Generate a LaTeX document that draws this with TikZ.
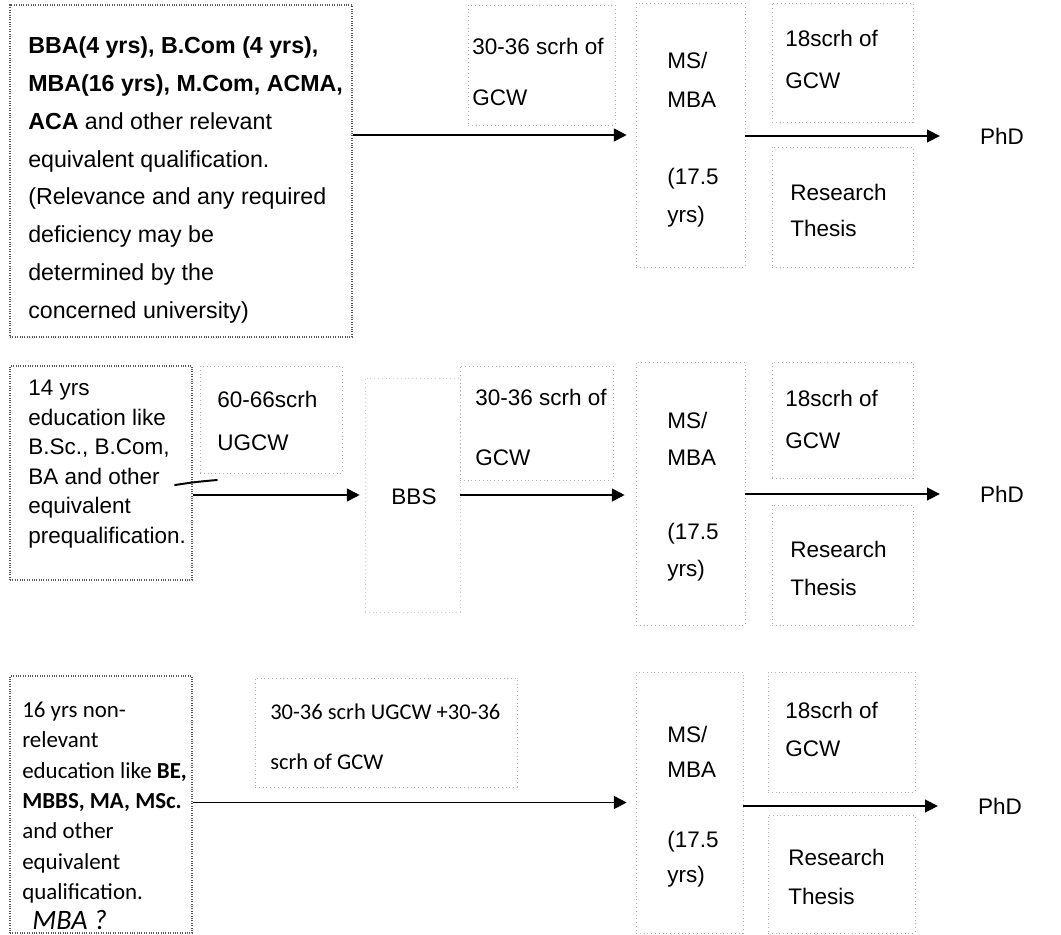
\documentclass[tikz,border=0pt]{standalone}
\usepackage{fontspec}
\setmainfont{Liberation Sans}
\newfontfamily\calibfont{Carlito}
\usetikzlibrary{arrows.meta,fit}

\tikzset{
  mainbox/.style={draw=black!65, densely dotted, line width=0.8pt},
  faintbox/.style={draw=black!30, dotted, line width=0.7pt},
  lsp/.style={font=\fontsize{16}{#1}\selectfont},
}

\begin{document}
\begin{tikzpicture}[x=0.025cm, y=-0.025cm]

        \useasboundingbox (0,0) rectangle (1061,935);

        % boxes
        \begin{scope}[every node/.style={faintbox, inner sep=0pt}]
          \node[mainbox, fit={(10,5) (352,337)}]   (a1box) {};
          \node[fit={(468,5) (615,125)}]           (g1box) {};
          \node[fit={(636,3) (745,267)}]           (ms1box) {};
          \node[fit={(772,3) (913,122)}]           (c1box) {};
          \node[fit={(772,147) (913,267)}]         (r1box) {};

          \node[mainbox, fit={(10,366) (192,580)}] (b1box) {};
          \node[fit={(200,366) (342,473)}]         (u2box) {};
          \node[draw=black!20, fit={(365,378) (460,612)}] (bbsbox) {};
          \node[fit={(460,366) (613,480)}]         (g2box) {};
          \node[fit={(636,362) (745,625)}]         (ms2box) {};
          \node[fit={(772,362) (913,478)}]         (c2box) {};
          \node[fit={(772,505) (913,625)}]         (r2box) {};

          \node[mainbox, fit={(10,676) (192,933)}] (n3box) {};
          \node[fit={(255,678) (517,787)}]         (u3box) {};
          \node[fit={(636,672) (743,933)}]         (ms3box) {};
          \node[fit={(768,672) (915,792)}]         (c3box) {};
          \node[fit={(768,815) (915,933)}]         (r3box) {};
        \end{scope}

        % texts
        \begin{scope}[every node/.style={align=left, inner sep=0pt, anchor=west}]
          \node[font=\fontsize{16.5}{27}\selectfont] (a1) at (28,180)
            {\textbf{BBA(4 yrs), B.Com (4 yrs),}\\ \textbf{MBA(16 yrs), M.Com, ACMA,}\\
             \textbf{ACA} and other relevant\\ equivalent qualification.\\
             (Relevance and any required\\ deficiency may be\\
             determined by the\\ concerned university)};
          \node[lsp=36.3] (g1)  at (472,72)   {30-36 scrh of\\GCW};
          \node[lsp=27.4] (ms1) at (667,140)  {MS/\\MBA\\ \mbox{}\\(17.5\\yrs)};
          \node[lsp=29.9] (c1)  at (785,59)   {18scrh of\\GCW};
          \node[lsp=25.6] (r1)  at (790,210)  {Research\\Thesis};
          \node[lsp=20, anchor=center] (phd1) at (1002,136) {PhD};

          \node[lsp=21]   (b1)  at (28,464)
            {14 yrs\\ education like\\ B.Sc., B.Com,\\ BA and other\\
             equivalent\\ prequalification.};
          \node[lsp=30.6] (u2)  at (217,421)  {60-66scrh\\UGCW};
          \node[lsp=20, anchor=center] (bbs) at (414,497) {BBS};
          \node[lsp=42.7] (g2)  at (475,427)  {30-36 scrh of\\GCW};
          \node[lsp=26.3] (ms2) at (667,497)  {MS/\\MBA\\ \mbox{}\\(17.5\\yrs)};
          \node[lsp=29.9] (c2)  at (785,419)  {18scrh of\\GCW};
          \node[lsp=27]   (r2)  at (790,568)  {Research\\Thesis};
          \node[lsp=20, anchor=center] (phd2) at (1002,494) {PhD};

          \node[font=\calibfont\fontsize{16.3}{21.6}\selectfont] (n3) at (22,816)
            {16 yrs non-\\ relevant\\ education like \textbf{BE,}\\
             \textbf{MBBS, MA, MSc.}\\ and other\\ equivalent\\ qualification.\\
             \hspace*{0.25cm}{\itshape\fontsize{20}{21.6}\selectfont MBA ?}};
          \node[font=\calibfont\fontsize{16}{35.6}\selectfont] (u3) at (270,737)
            {30-36 scrh UGCW +30-36\\scrh of GCW};
          \node[lsp=24.9] (ms3) at (667,807)  {MS/\\MBA\\ \mbox{}\\(17.5\\yrs)};
          \node[lsp=27]   (c3)  at (785,729)  {18scrh of\\GCW};
          \node[lsp=27.7] (r3)  at (788,877)  {Research\\Thesis};
          \node[lsp=20, anchor=center] (phd3) at (1000,806) {PhD};
        \end{scope}

        % pen stroke
        \coordinate (pena) at (175,485);
        \coordinate (penb) at (217,480);
        \draw[line width=1.4pt, line cap=round] (pena) .. controls (195,482) .. (penb);

        % arrows
        \begin{scope}[every edge/.style={draw, line width=1.2pt,
                      -{Triangle[length=0.32cm, width=0.32cm]}}]
          \path (a1box.east |- ms1box.west) edge[shorten >=0.22cm] (ms1box.west);
          \path (ms1box.east |- phd1.west)  edge[shorten >=1cm]    (phd1.west);

          \path (b1box.east |- bbsbox.west) edge[shorten >=0.12cm] (bbsbox.west);
          \path (bbsbox.east)               edge[shorten >=0.27cm] (ms2box.west |- bbsbox.east);
          \path (ms2box.east |- phd2.west)  edge[shorten >=1cm]    (phd2.west);

          \path (n3box.east |- ms3box.west) edge[shorten >=0.22cm] (ms3box.west);
          \path (ms3box.east |- phd3.west)  edge[shorten >=1cm]    (phd3.west);
        \end{scope}

      \end{tikzpicture}
\end{document}
